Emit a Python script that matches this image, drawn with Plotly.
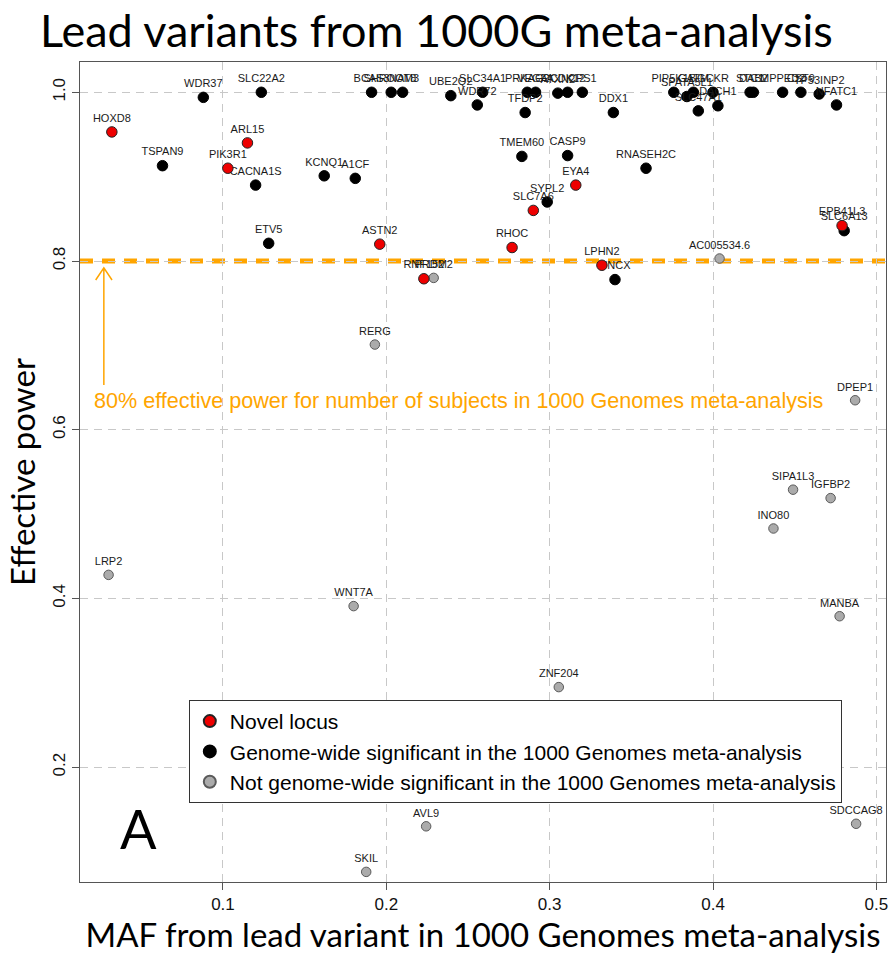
import plotly.graph_objects as go

# Lead variants: MAF in the 1000 Genomes meta-analysis vs. effective power
novel_genes = ["HOXD8", "ARL15", "PIK3R1", "ASTN2", "RNF152", "RHOC", "SLC7A6",
               "EYA4", "LPHN2", "EPB41L3"]
novel_maf = [0.032, 0.115, 0.103, 0.196, 0.223, 0.277, 0.290, 0.316, 0.332, 0.479]
novel_power = [0.953, 0.940, 0.910, 0.820, 0.779, 0.816, 0.860, 0.890, 0.795, 0.842]

gw_genes = ["WDR37", "SLC22A2", "TSPAN9", "CACNA1S", "KCNQ1", "A1CF", "ETV5",
            "BCAS3", "SHROOM3", "NAT8", "UBE2Q2", "WDR72", "SLC34A1", "PRKAG2",
            "VEGFA", "TFDP2", "ATXN2", "CDK12", "CPS1", "TMEM60", "CASP9", "SYPL2",
            "DDX1", "RNASEH2C", "UNCX", "PIP5K1B", "SPATA5L1", "GATM", "SLC47A1",
            "GCKR", "DACH1", "STC1", "DAB2", "MPPED2", "CST9", "TP53INP2", "NFATC1",
            "SLC6A13"]
gw_maf = [0.088, 0.1235, 0.063, 0.120, 0.162, 0.181, 0.128,
          0.191, 0.203, 0.210, 0.2395, 0.2557, 0.259, 0.2863,
          0.2914, 0.285, 0.305, 0.311, 0.320, 0.283, 0.311, 0.2985,
          0.339, 0.359, 0.340, 0.376, 0.384, 0.388, 0.391,
          0.400, 0.403, 0.4227, 0.4247, 0.4426, 0.4538, 0.465, 0.4756,
          0.4803]
gw_power = [0.994, 1.000, 0.913, 0.890, 0.901, 0.898, 0.821,
            1.000, 1.000, 1.000, 0.996, 0.985, 1.000, 1.000,
            1.000, 0.976, 0.999, 1.000, 1.000, 0.924, 0.925, 0.870,
            0.976, 0.910, 0.778, 1.000, 0.995, 1.000, 0.978,
            1.000, 0.984, 1.000, 1.000, 1.000, 1.000, 0.998, 0.985,
            0.836]

ns_genes = ["PRDM2", "AC005534.6", "RERG", "DPEP1", "SIPA1L3", "IGFBP2", "INO80",
            "LRP2", "WNT7A", "MANBA", "ZNF204", "AVL9", "SKIL", "SDCCAG8"]
ns_maf = [0.229, 0.404, 0.193, 0.487, 0.449, 0.472, 0.437,
          0.030, 0.180, 0.4775, 0.3056, 0.2244, 0.1877, 0.4876]
ns_power = [0.780, 0.803, 0.701, 0.635, 0.529, 0.519, 0.483,
            0.428, 0.391, 0.379, 0.295, 0.130, 0.076, 0.133]

power_threshold = 0.8
x_ticks = [0.1, 0.2, 0.3, 0.4, 0.5]
x_tick_text = ["0.1", "0.2", "0.3", "0.4", "0.5"]
y_ticks = [0.2, 0.4, 0.6, 0.8, 1.0]
y_tick_text = ["0.2", "0.4", "0.6", "0.8", "1.0"]

ORANGE = "#FFA500"
SANS = "Liberation Sans, Arial, sans-serif"
LABEL_FONT = dict(family=SANS, size=11, color="#1a1a1a")

fig = go.Figure()


def add_group(name, genes, maf, power, fill, outline, size):
    fig.add_trace(go.Scatter(
        x=maf, y=power, text=genes, name=name,
        mode="markers+text", textposition="top center",
        textfont=LABEL_FONT, cliponaxis=False,
        marker=dict(color=fill, size=size, line=dict(color=outline, width=1)),
        hovertemplate="%{text}<br>MAF %{x:.3f}<br>power %{y:.3f}<extra></extra>",
    ))


add_group("Not genome-wide significant in the 1000 Genomes meta-analysis",
          ns_genes, ns_maf, ns_power, "#ABABAB", "#5a5a5a", 9.5)
add_group("Genome-wide significant in the 1000 Genomes meta-analysis",
          gw_genes, gw_maf, gw_power, "#000000", "#000000", 10.5)
add_group("Novel locus", novel_genes, novel_maf, novel_power, "#EE0000", "#222222", 10.5)

# 80% effective power threshold
fig.add_shape(type="line", xref="paper", x0=0, x1=1, yref="y",
              y0=power_threshold, y1=power_threshold, layer="between",
              line=dict(color=ORANGE, width=5, dash="13px,9px"))

# arrow pointing up to the threshold line
ax_x = 0.0271
ax_top = power_threshold - 0.008
ax_bot = 0.653
hw, hh = 0.0050, 0.0145
fig.add_shape(type="path", xref="x", yref="y", layer="above",
              path=(f"M {ax_x} {ax_bot} L {ax_x} {ax_top} "
                    f"M {ax_x - hw} {ax_top - hh} L {ax_x} {ax_top} L {ax_x + hw} {ax_top - hh}"),
              line=dict(color=ORANGE, width=1.5))

fig.add_annotation(x=0.0198, y=0.635, xref="x", yref="y", xanchor="left", yanchor="middle",
                   text="80% effective power for number of subjects in 1000 Genomes meta-analysis",
                   showarrow=False,
                   font=dict(family=SANS, size=21.6, color=ORANGE))

fig.add_annotation(x=0.0485, y=0.128, xref="x", yref="y", xanchor="center", yanchor="middle",
                   text="A", showarrow=False,
                   font=dict(family="Lato, sans-serif", size=54, color="#000000"))

grid_dash = "8px,6px"
fig.update_layout(
    width=896, height=954,
    margin=dict(l=80, r=8, t=62, b=72),
    paper_bgcolor="white", plot_bgcolor="white",
    title=dict(text="Lead variants from 1000G meta-analysis",
               x=0.487, xanchor="center", y=1 - 31 / 954, yanchor="middle",
               font=dict(family="Lato, sans-serif", size=45, color="#000000")),
    xaxis=dict(range=[0.0125, 0.5059], tickvals=x_ticks, ticktext=x_tick_text,
               showgrid=True, gridcolor="#C8C8C8", gridwidth=1.3, griddash=grid_dash,
               zeroline=False, showline=True, linecolor="#555555", linewidth=1, mirror=True,
               ticks="outside", ticklen=7, tickcolor="#555555",
               tickfont=dict(family=SANS, size=17, color="#111111"),
               title=dict(text="MAF from lead variant in 1000 Genomes meta-analysis",
                          font=dict(family="Lato, sans-serif", size=33, color="#000000"),
                          standoff=6)),
    yaxis=dict(range=[0.064, 1.0359], tickvals=y_ticks, ticktext=y_tick_text,
               showgrid=True, gridcolor="#C8C8C8", gridwidth=1.3, griddash=grid_dash,
               zeroline=False, showline=True, linecolor="#555555", linewidth=1, mirror=True,
               ticks="outside", ticklen=7, tickcolor="#555555", tickangle=-90,
               tickfont=dict(family=SANS, size=17, color="#111111"),
               title=dict(text="Effective power",
                          font=dict(family="Lato, sans-serif", size=33, color="#000000"),
                          standoff=4)),
    showlegend=True,
    legend=dict(x=0.135, y=0.222, xanchor="left", yanchor="top",
                traceorder="reversed", bgcolor="white",
                bordercolor="#333333", borderwidth=1,
                font=dict(family=SANS, size=21, color="#000000"),
                itemsizing="constant"),
)

fig.write_html("out.html")
